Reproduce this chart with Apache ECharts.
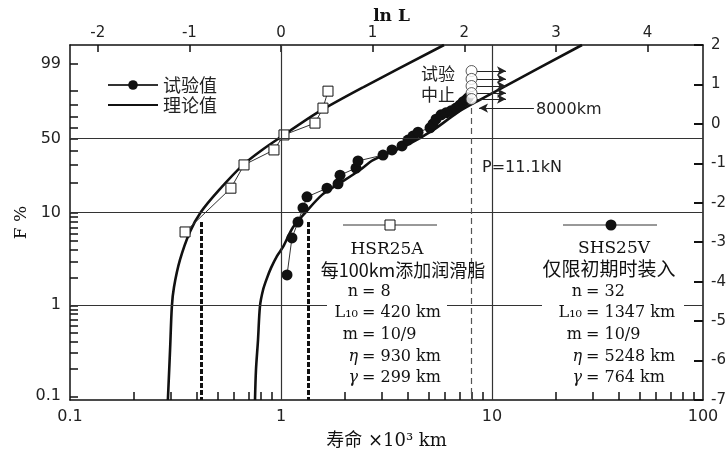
<!DOCTYPE html>
<html>
<head>
<meta charset="utf-8">
<script src="https://cdn.jsdelivr.net/npm/echarts@6/dist/echarts.min.js"></script>
<style>
html, body { margin: 0; padding: 0; background: #fff; }
#chart { width: 728px; height: 452px; }
</style>
</head>
<body>
<div id="chart"></div>
<script>
// 寿命 L (x10^3 km) / ln ln(1/(1-F))
const hsrLife = [0.351, 0.579, 0.668, 0.926, 1.033, 1.449, 1.581, 1.670];
const hsrLnln = [-2.74, -1.63, -1.04, -0.66, -0.28, 0.02, 0.40, 0.83];
const shsLife = [1.068, 1.127, 1.204, 1.271, 1.328, 1.652, 1.863, 1.904, 2.267, 2.317, 3.044, 3.358, 3.746, 3.999,
  4.223, 4.460, 5.085, 5.253, 5.428, 5.732, 6.053, 6.393, 6.752, 7.053, 7.289, 7.531, 7.698];
const shsLnln = [-3.83, -2.89, -2.49, -2.13, -1.85, -1.63, -1.52, -1.30, -1.12, -0.94, -0.79, -0.66, -0.56, -0.41,
  -0.31, -0.21, -0.10, 0.00, 0.12, 0.23, 0.28, 0.33, 0.40, 0.48, 0.56, 0.61, 0.66];
// 试验中止
const stopLife = [8, 8, 8, 8, 8];
const stopLnln = [1.34, 1.14, 0.96, 0.78, 0.63];
// 理论值
const hsrCurveLife = [0.291, 0.298, 0.304, 0.311, 0.332, 0.370, 0.418, 0.508, 0.661, 0.813, 1.0, 1.481, 2.474, 5.923];
const hsrCurveLnln = [-7.0, -5.73, -4.62, -4.14, -3.45, -2.74, -2.23, -1.68, -1.04, -0.66, -0.33, 0.28, 0.94, 2.0];
const shsCurveLife = [0.753, 0.761, 0.778, 0.795, 0.822, 0.858, 0.897, 0.957, 1.022, 1.140, 1.299, 1.564, 1.843,
  2.368, 2.729, 3.956, 5.253, 6.826, 8.215, 11.40, 26.70];
const shsCurveLnln = [-7.0, -6.24, -5.48, -4.62, -4.21, -3.91, -3.65, -3.35, -3.12, -2.62, -2.26, -1.80, -1.55,
  -1.17, -0.92, -0.54, -0.16, 0.28, 0.53, 0.94, 2.0];
const l10Life = [0.420, 1.347];
const l10Top = -2.49;
const stopMark = 8;     // 8000km
const stopArrowEnd = 11.65;

// axes
const fLabels = [99, 50, 10, 1, 0.1];
const fTicks = [99, 90, 80, 70, 60, 50, 40, 30, 20, 10, 9, 8, 7, 6, 5, 4, 3, 2,
  1, 0.9, 0.8, 0.7, 0.6, 0.5, 0.4, 0.3, 0.2, 0.1];
const fGrid = [50, 10, 1];
const lifeMinor = [0.2, 0.3, 0.4, 0.5, 0.6, 0.7, 0.8, 0.9, 2, 3, 4, 5, 6, 7, 8, 9, 20, 30, 40, 50, 60, 70, 80, 90];
const lifeGrid = [1, 10];
const lnTicks = [-2, -1, 0, 1, 2, 3, 4];

const weib = f => Math.log(-Math.log(1 - f / 100));
const zip = (a, b) => a.map((v, i) => [v, b[i]]);

const SANS = 'DejaVu Sans';
const SERIF = 'DejaVu Serif';
const CJK = 'Noto Sans CJK SC';
const INK = '#111';

const chart = echarts.init(document.getElementById('chart'));

const refLines = [];
lifeGrid.forEach(v => refLines.push([{ coord: [v, -7] }, { coord: [v, 2] }]));
fGrid.forEach(f => refLines.push([{ coord: [0.1, weib(f)] }, { coord: [100, weib(f)] }]));

const paramText = (y, name, val, rightX, italic) => [
  { type: 'text', z: 100, style: { text: name, x: rightX, y: y, align: 'right', verticalAlign: 'middle',
      font: (italic ? 'italic ' : '') + '16px ' + SERIF, fill: INK } },
  { type: 'text', z: 100, style: { text: val, x: rightX + 4, y: y, align: 'left', verticalAlign: 'middle',
      font: '16px ' + SERIF, fill: INK } }
];

const graphics = [
  // white cut-outs on the 1% line
  { type: 'rect', z: 90, shape: { x: 327, y: 300, width: 120, height: 13 }, style: { fill: '#fff' } },
  { type: 'rect', z: 90, shape: { x: 542, y: 300, width: 142, height: 13 }, style: { fill: '#fff' } },
  { type: 'text', z: 100, style: { text: '试验', x: 421, y: 74, verticalAlign: 'middle', font: '17px ' + CJK, fill: '#222' } },
  { type: 'text', z: 100, style: { text: '中止', x: 421, y: 95, verticalAlign: 'middle', font: '17px ' + CJK, fill: '#222' } },
  { type: 'text', z: 100, style: { text: '8000km', x: 536, y: 110, verticalAlign: 'middle', font: '16px ' + SANS, fill: '#222' } },
  { type: 'text', z: 100, style: { text: 'P=11.1kN', x: 482, y: 168, verticalAlign: 'middle', font: '16px ' + SANS, fill: '#222' } },
  // HSR25A block
  { type: 'line', z: 100, shape: { x1: 343, y1: 225, x2: 437, y2: 225 }, style: { stroke: '#333', lineWidth: 1 } },
  { type: 'rect', z: 101, shape: { x: 385, y: 220, width: 10, height: 10 }, style: { fill: '#fff', stroke: INK, lineWidth: 1 } },
  { type: 'text', z: 100, style: { text: 'HSR25A', x: 387, y: 250, align: 'center', verticalAlign: 'middle', font: '17px ' + SERIF, fill: INK } },
  { type: 'text', z: 100, style: { text: '每100km添加润滑脂', x: 403, y: 270, align: 'center', verticalAlign: 'middle', font: '18px ' + CJK, fill: INK } },
  ...paramText(292, 'n', '= 8', 358),
  ...paramText(313, 'L₁₀', '= 420 km', 358),
  ...paramText(335, 'm', '= 10/9', 358),
  ...paramText(357, 'η', '= 930 km', 358, true),
  ...paramText(378, 'γ', '= 299 km', 358, true),
  // SHS25V block
  { type: 'line', z: 100, shape: { x1: 563, y1: 225, x2: 657, y2: 225 }, style: { stroke: '#333', lineWidth: 1 } },
  { type: 'circle', z: 101, shape: { cx: 611, cy: 225, r: 5.5 }, style: { fill: INK } },
  { type: 'text', z: 100, style: { text: 'SHS25V', x: 614, y: 249, align: 'center', verticalAlign: 'middle', font: '17px ' + SERIF, fill: INK } },
  { type: 'text', z: 100, style: { text: '仅限初期时装入', x: 609, y: 269, align: 'center', verticalAlign: 'middle', font: '19px ' + CJK, fill: INK } },
  ...paramText(292, 'n', '= 32', 582),
  ...paramText(313, 'L₁₀', '= 1347 km', 582),
  ...paramText(335, 'm', '= 10/9', 582),
  ...paramText(357, 'η', '= 5248 km', 582, true),
  ...paramText(378, 'γ', '= 764 km', 582, true)
];

const option = {
  backgroundColor: '#fff',
  animation: false,
  grid: { left: 70, right: 25, top: 45, bottom: 52, outerBoundsMode: 'none' },
  legend: {
    left: 102, top: 71, orient: 'vertical', itemWidth: 50, itemHeight: 12, itemGap: 2,
    data: ['试验值', { name: '理论值', itemStyle: { opacity: 0 } }],
    textStyle: { fontFamily: CJK, fontSize: 18, lineHeight: 18, color: '#222' }
  },
  xAxis: [
    {
      type: 'log', logBase: 10, min: 0.1, max: 100,
      name: '寿命 ×10³ km', nameLocation: 'middle', nameGap: 32,
      nameTextStyle: { fontFamily: SERIF + ', ' + CJK, fontSize: 18, color: INK },
      axisLine: { onZero: false, lineStyle: { color: INK, width: 1.5 } },
      axisTick: { inside: true, length: 8, customValues: lifeMinor, lineStyle: { color: INK, width: 1.5 } },
      axisLabel: { margin: 9, fontFamily: SANS, fontSize: 16, color: '#222' },
      splitLine: { show: false }
    },
    {
      type: 'value', position: 'top', min: Math.log(0.1), max: Math.log(100),
      name: 'ln L', nameLocation: 'middle', nameGap: 20, nameMoveOverlap: false,
      nameTextStyle: { fontFamily: SERIF, fontWeight: 'bold', fontSize: 17, color: INK, padding: [0, 0, 0, 10] },
      axisLine: { onZero: false, lineStyle: { color: INK, width: 1.5 } },
      axisTick: { inside: true, length: 7, customValues: lnTicks, lineStyle: { color: INK, width: 1.5 } },
      axisLabel: { margin: 4, customValues: lnTicks, fontFamily: SANS, fontSize: 15, color: '#222' },
      splitLine: { show: false }
    }
  ],
  yAxis: [
    {
      type: 'value', position: 'left', min: -7, max: 2,
      name: 'F %', nameLocation: 'middle', nameRotate: 90, nameGap: 40, nameMoveOverlap: false,
      nameTextStyle: { fontFamily: SERIF, fontSize: 17, color: INK },
      axisLine: { onZero: false, lineStyle: { color: INK, width: 1.5 } },
      axisTick: { inside: true, length: 8, customValues: fTicks.map(weib), lineStyle: { color: INK, width: 1.5 } },
      axisLabel: {
        margin: 9, fontFamily: SANS, fontSize: 16, color: '#222',
        customValues: fLabels.map(weib),
        formatter: v => {
          const f = fLabels.find(x => Math.abs(weib(x) - v) < 1e-6);
          return f === undefined ? '' : String(f);
        }
      },
      splitLine: { show: false }
    },
    {
      type: 'value', position: 'right', min: -7, max: 2, interval: 1,
      axisLine: { onZero: false, lineStyle: { color: INK, width: 1.5 } },
      axisTick: { inside: true, length: 9, lineStyle: { color: INK, width: 2 } },
      axisLabel: { margin: 8, fontFamily: SANS, fontSize: 15, color: '#222' },
      splitLine: { show: false }
    }
  ],
  series: [
    {
      name: 'ref', type: 'line', xAxisIndex: 0, yAxisIndex: 1, data: [], silent: true, z: 1,
      markLine: {
        silent: true, symbol: ['none', 'none'], label: { show: false },
        lineStyle: { color: '#333', width: 1.2, type: 'solid' },
        data: [
          ...refLines,
          // L10
          ...l10Life.map(v => [{ coord: [v, l10Top], lineStyle: { color: INK, width: 3, type: [5, 2] } },
                               { coord: [v, -7] }]),
          // 8000 km dashed
          [{ coord: [stopMark, 0.40], lineStyle: { color: '#555', width: 1.2, type: [6, 4] } }, { coord: [stopMark, -7] }]
        ]
      }
    },
    {
      name: '理论值', type: 'line', xAxisIndex: 0, yAxisIndex: 1, data: zip(hsrCurveLife, hsrCurveLnln),
      symbol: 'none', smooth: 0.3, lineStyle: { color: INK, width: 2.6 }, itemStyle: { color: INK }, z: 3
    },
    {
      name: '理论值', type: 'line', xAxisIndex: 0, yAxisIndex: 1, data: zip(shsCurveLife, shsCurveLnln),
      symbol: 'none', smooth: 0.3, lineStyle: { color: INK, width: 2.6 }, itemStyle: { color: INK }, z: 3
    },
    {
      name: 'HSR25A', type: 'line', xAxisIndex: 0, yAxisIndex: 1, data: zip(hsrLife, hsrLnln),
      symbol: 'rect', symbolSize: 10, lineStyle: { color: '#333', width: 1 },
      itemStyle: { color: '#fff', borderColor: INK, borderWidth: 1 }, z: 4
    },
    {
      name: '试验值', type: 'line', xAxisIndex: 0, yAxisIndex: 1, data: zip(shsLife, shsLnln),
      symbol: 'circle', symbolSize: 11, lineStyle: { color: '#333', width: 1 },
      itemStyle: { color: INK }, z: 4
    },
    {
      name: '试验中止', type: 'scatter', xAxisIndex: 0, yAxisIndex: 1, data: zip(stopLife, stopLnln),
      symbol: 'circle', symbolSize: 11, itemStyle: { color: '#fff', borderColor: '#333', borderWidth: 1 }, z: 5,
      markLine: {
        silent: true, symbol: ['none', 'arrow'], symbolSize: [7, 9], label: { show: false },
        lineStyle: { color: '#222', width: 1, type: 'solid' },
        data: [
          ...stopLnln.map(y => [{ coord: [8.49, y] }, { coord: [stopArrowEnd, y] }]),
          [{ coord: [15.8, 0.40] }, { coord: [8.68, 0.40] }]
        ]
      }
    }
  ],
  graphic: graphics
};
chart.setOption(option);
</script>
</body>
</html>
